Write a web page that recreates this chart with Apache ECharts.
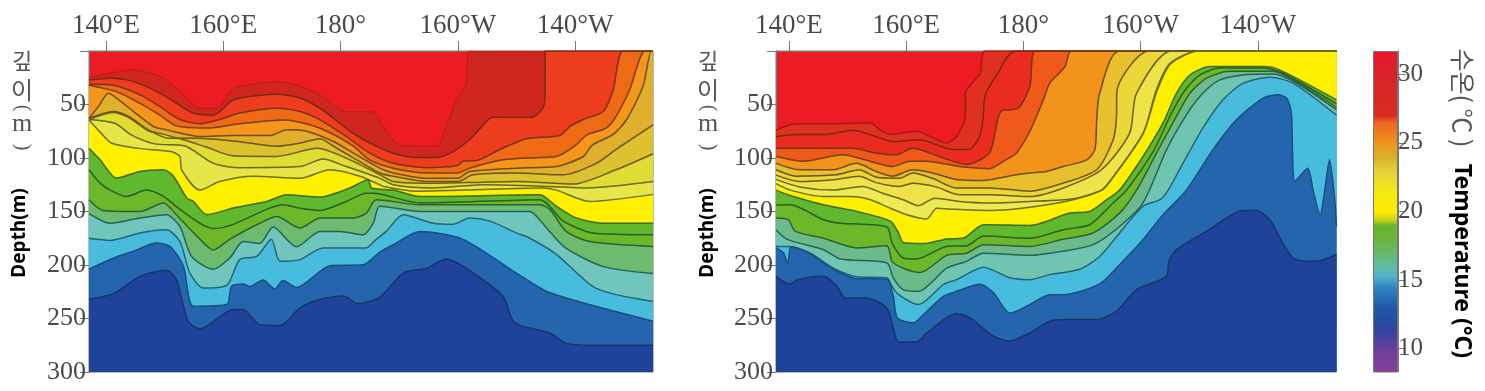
<!DOCTYPE html>
<html>
<head>
<meta charset="utf-8">
<title>Temperature sections</title>
<script src="https://cdn.jsdelivr.net/npm/echarts@6/dist/echarts.min.js"></script>
<style>
html,body{margin:0;padding:0;background:#fff}
#main{width:1485px;height:391px}
</style>
</head>
<body>
<div id="main"></div>
<script>
// longitude runs 140E -> 180 -> 140W as 140..220, every isotherm is [lon, depth]
var lonTicks = [140, 160, 180, 200, 220];
var lonLabels = ['140°E', '160°E', '180°', '160°W', '140°W'];
var depthLabels = [50, 100, 150, 200, 250, 300];
var tempTicks = [10, 15, 20, 25, 30];

// left section, warmest isotherm first
var left01 = [[137.1,24.6],[140.7,20.8],[144.7,17.7],[148.1,21.5],[150.3,27],[153.2,41],[156,53.5],[158.9,53.5],[161.7,35],[165.1,31],[169.1,28.6],[173.1,32.7],[176.5,41],[181,56.6],[185.6,57],[187.3,70.6],[190.1,88],[196.4,89],[198,70.6],[199.8,45.7],[201.5,30],[201.8,0],[233.3,0]];
var left02 = [[137.1,27],[140.7,25.5],[144.7,28.6],[148.1,36.4],[151.5,47],[154.9,58],[158.3,60],[161.7,45.7],[165.1,42],[169.1,40.4],[173.1,44],[176.5,53.5],[179.9,67.5],[181.6,75],[185,86],[189,95.5],[193,99.5],[196.4,99.5],[199.2,94],[202,83],[204.9,66],[206,62],[212.6,62],[214.5,53.5],[214.9,39.5],[214.9,0],[233.3,0]];
var left03 = [[137.1,31],[141.3,32],[145.8,41],[149.2,52],[152.6,64],[156,68],[159.4,64],[162.8,58],[169.1,53.5],[173.1,56.6],[176.5,64.4],[181,80],[185,95.5],[189,105],[194.7,109],[200,107],[200.9,103],[203.5,102],[207.2,92],[211.7,82],[217.4,79],[219.1,70.6],[221.4,64],[224.8,56.6],[226.5,36.4],[228.2,0],[233.3,0]];
var left04 = [[137.1,32],[141.8,38],[145.8,49],[149.2,60],[152,70],[157.2,72],[162.8,68],[170.2,64.4],[174.8,69],[178.8,78],[182.2,89],[185,102],[189,109.5],[194.7,114],[200,114],[202,109.5],[207.2,102],[211.7,100],[216.8,98.6],[220.2,87.7],[222,78.4],[225.3,72],[227,61],[229.3,36.4],[231.9,0],[233.3,0]];
var left05 = [[137.1,63],[138.7,52],[140.4,39.5],[141.8,44],[144.7,56.6],[148.1,70.6],[150.3,73.7],[156,80],[161.7,79],[168,79],[170.8,73.7],[174.2,75],[178.8,84.6],[182.2,95.5],[186.7,109.5],[189,114],[194.7,119],[200,119],[202,112.6],[210,109.5],[216.8,108],[221.4,98.6],[223,87.7],[226.5,78],[228.8,64],[231.6,33],[233,0],[233.3,0]];
var left06 = [[137.1,63],[141.2,56.6],[143.8,61],[147.2,73.7],[150.6,81.5],[155.7,81.5],[162.5,84.6],[169.1,89],[173.1,86],[176.5,82],[178.8,89],[186.7,114],[189,117],[194.7,122],[200,122],[202.6,115.7],[210,114],[218,115.7],[223.6,105],[227,92],[233.3,69]];
var left07 = [[137.1,64],[141.2,57.5],[143.8,62],[147.2,74.5],[149.2,77],[153.2,83],[157.2,90],[161.7,98],[169.1,98.6],[176,91],[181.6,101.7],[186.7,115.7],[189,122],[194.1,123.5],[201.5,122.9],[210,122],[219.7,124.4],[227,111],[233.3,96]];
var left08 = [[137.1,64],[141.5,67.5],[144.3,78.4],[148.3,86.8],[153.4,88.6],[158.3,105],[162.8,109],[173.1,108],[177,101],[181,108],[186.7,119],[189,125],[195.8,128],[204.3,125],[215.7,126.6],[222,128],[233.3,122]];
var left09 = [[137.1,64.4],[139.2,77],[140.9,86],[145.5,91],[151.1,94],[152.6,98.6],[152.9,111],[156,130],[159.4,122],[165.1,117],[173.1,119],[178.2,111],[183.3,117],[186.7,125],[187.3,126.6],[193,131],[201.5,130],[214.5,128],[216.8,130],[222.5,140.6],[233.3,134]];
var left10 = [[137.1,91],[139,101.7],[141.8,118.8],[145.8,112.6],[149.8,111],[151.5,117],[153.8,137.5],[154.9,140.6],[157.2,153],[161.7,146.8],[167.4,140.6],[170.8,134.4],[176.5,136.5],[181.6,128],[184.7,120.4],[185.3,128],[189,130],[193.5,136],[214,134.4],[216.8,145],[220.2,156],[224.8,161],[233.3,161]];
var left11 = [[137.1,111],[139,123.5],[140.7,130],[143.5,136],[146.9,130],[149.8,136],[152.6,148],[156,161],[158.3,166],[161.7,162],[167.4,148],[170.2,143.7],[173.1,147],[176.5,149],[181,140.6],[184.4,133],[185.6,133],[193.5,142],[214,139],[218,159],[223,170],[233.3,171.7]];
var left12 = [[137.1,139],[139.5,149],[145.8,150],[149.8,142],[152,153],[155.5,173],[158.3,186],[161.1,176],[166.2,161],[169.1,154.6],[173.1,165.5],[176.5,156],[182.2,156],[184.4,151.5],[186.1,139],[193.5,143.7],[214,143.7],[215.7,148],[218.5,168.6],[222.5,178],[233.3,182.6]];
var left13 = [[137.1,152],[140.7,161],[145.8,156],[150.3,153],[152.6,164],[154.6,192],[158.3,204],[161.1,193.5],[163.4,178],[166.2,180],[168.5,164.5],[172.5,183],[176.5,168.6],[179.9,168.6],[183.9,171.7],[185.6,160.8],[186.7,145],[193.5,150],[212.3,150],[214,158],[215.7,169],[218.5,184.5],[224.8,201.5],[233.3,208]];
var left14 = [[137.1,175],[140.7,177],[145.8,170],[150.3,167],[152.6,178],[154.3,207.5],[156.6,221.5],[160.6,219],[162.8,195],[165.7,192],[168.2,176],[169.7,196.6],[173.1,195],[177,184],[182.7,184],[184.4,184],[186.1,176],[187.8,168.6],[190.7,153],[195.8,161],[199.2,162],[202,156],[205.5,159],[210,170],[212.3,175],[216.8,190],[223,220],[227,227.7],[233.3,234]];
var left15 = [[137.1,204],[141.3,193.5],[144.7,187],[148.6,179.5],[150.9,182.6],[153.2,201],[154.9,238.6],[160.6,237],[161.4,220],[163.4,217.7],[164.5,220],[166.8,214],[168.8,222.4],[170.2,214.6],[172.5,221],[178.2,200.6],[183.9,199.7],[186.7,188],[189,181],[193.5,168.6],[200.9,176],[210,207.5],[215.7,226],[233.3,252.5]];
var left16 = [[137.1,231.7],[141.3,226.7],[145.8,210.6],[150.3,205],[152,213.7],[154,252.6],[156,259.7],[161.7,241.7],[163.4,241.7],[166.2,255.7],[169.7,256.6],[173.1,240],[176.5,232.3],[180.5,229],[183,236],[186.7,230],[190.7,207.5],[194.7,203],[198,194.4],[200.9,201],[207.7,229],[209.7,254],[215.7,263.5],[218.5,273],[222.5,275],[233.3,275]];

// right section
var right01 = [[137.8,74],[140.2,69],[142.5,68],[147,68],[153.9,67],[155.6,74],[157.3,78],[161.8,75],[164.1,80],[166.9,86],[168.6,80],[170.1,61],[170.1,39.5],[172.6,21],[173.5,0],[233.4,0]];
var right02 = [[137.8,80],[141.2,78],[146.4,78],[150.9,74],[154.9,80],[157.7,84.6],[162.3,83],[168,92],[170.8,92],[172.5,80],[173.1,64],[173.5,41],[175.5,22],[178.6,0],[233.4,0]];
var right03 = [[137.8,91],[142.4,91],[150.9,91],[154.9,95.5],[158.3,97],[161.1,91],[166.3,100],[170.2,106],[174.2,95.5],[175.6,64],[176.3,55.7],[179.1,53.5],[181.1,33],[182,0],[233.4,0]];
var right04 = [[137.8,98.6],[142.4,103],[149.2,97],[153.8,103],[157.7,108],[160.6,103],[163.4,103],[169.1,108],[174.2,110],[177,101.7],[178.8,95.5],[181.1,75],[183.4,45.7],[184.5,30],[187.1,14.6],[188.2,0],[233.4,0]];
var right05 = [[137.8,105],[141.8,111],[147.5,111],[151.5,105],[154.9,112.6],[157.7,117],[161.1,111],[164.5,114],[168.5,120],[173.1,121],[178.8,115.7],[181.1,114],[183.9,112.6],[186.8,108],[190.8,101.7],[192.2,92],[192.5,64],[193,39.5],[196.4,0],[233.4,0]];
var right06 = [[137.8,111],[141.2,117],[148,115.7],[152,111],[154.9,118],[158.9,119],[161.1,114],[164.5,119],[168.5,128],[173.1,128],[174.2,128],[181.1,131],[186.8,123.5],[192.5,111],[195.3,83],[195.9,58],[195.9,39.5],[201.5,0],[233.4,0]];
var right07 = [[137.8,116],[141.8,122],[148,120],[152,117],[154.9,123],[158.9,126.6],[161.1,123.5],[165.1,127],[169.1,134.4],[174.2,134.4],[181.1,136],[186.8,128],[193.3,111],[198.1,77],[199.3,39.5],[205.3,0],[233.4,0]];
var right08 = [[137.8,120],[141.8,127],[147.5,130],[152.6,126.6],[156,133],[159.5,139],[162.1,144.6],[164.9,137.5],[169.1,140.6],[174.2,142],[181.1,140.6],[188.5,138],[193.3,130],[194.7,122],[200.4,77],[202.7,36],[205,11.5],[209.8,0],[233.4,0]];
var right09 = [[137.8,124],[140.2,130],[145.9,136],[150.5,136],[153.9,139],[157.3,147],[160.1,153],[163.5,157],[165.2,147],[168.6,148],[174.3,149],[181.1,146],[188.5,139],[193.3,130.3],[194.7,122.5],[200.4,77.5],[202.8,37],[205.1,12],[209.9,0],[233.4,0]];
var right10 = [[137.8,130],[140.2,135],[145.9,143.7],[151.6,150],[157.3,159],[158.7,170],[159.5,179],[163,180],[166.9,175.8],[169.8,174.8],[173.2,162.4],[181.1,163],[187.9,151.5],[191.3,150],[194.2,139],[196.4,130],[200.4,98.6],[203.8,67.5],[206.1,39.5],[208.4,22.4],[211.8,14.6],[220.9,14.6],[223.7,17.7],[233.4,45.7]];
var right11 = [[137.8,144],[140.2,143.7],[145.9,157.7],[148.8,161],[156.7,164.5],[157.6,179.5],[159.5,193.5],[161.8,194.4],[166.9,182.6],[170.3,182],[173.2,173],[181.1,175],[186.8,167],[191.3,162.4],[195.3,142],[197.6,130],[202.3,92.4],[205,61],[207.2,39.5],[210.1,22.4],[213.5,16],[220.9,16],[224.3,20.8],[233.4,49.5]];
var right12 = [[137.8,156],[139.9,157.7],[141.1,168.6],[145.9,175],[151.6,184],[156.7,182],[157.6,196.6],[159.5,203],[162.4,207],[166.9,191],[170.3,189],[173.2,181],[181.1,182.6],[186.8,176],[191.9,170],[196.4,151.5],[199.3,130],[202.7,95.5],[206.1,61],[208.4,39.5],[211.2,25.5],[215.2,19],[222.6,19],[226,27],[233.4,52.6]];
var right13 = [[137.8,167],[139.7,176],[145.9,185.7],[148.8,194.4],[156.7,198],[157.8,212],[159.5,223],[162.1,224.6],[166.9,203],[170.3,196.6],[173.2,189],[181.1,191],[186.8,187],[191.9,181],[196.4,164],[200.4,142],[204.4,92.4],[207.8,59.7],[210.6,39.5],[213.5,27],[217.5,22.4],[222.6,21.5],[226.6,30],[233.4,55]];
var right14 = [[137.8,182.6],[140.2,182.6],[143.6,188.8],[147.6,203],[151.6,211],[156.7,212],[157.6,220],[158.7,227.7],[162.1,237],[166.4,218],[168.6,213.7],[173.2,202],[177.7,212],[181.1,213.7],[184.5,209],[189.6,204],[193,192],[196.4,170],[200.4,145],[203.3,139],[204.7,130],[207.2,105],[210.6,72],[214,45.7],[217.5,30],[222,24.6],[226,30],[233.4,60]];
var right15 = [[137.8,184],[139.1,188.8],[139.8,198.8],[140.4,183],[143.6,189.4],[147.6,204],[151.6,212.8],[156.7,213],[157.8,229],[158.5,249.5],[161.3,254],[163,246],[166.4,229],[168.6,224.6],[172.6,218],[174.9,226],[177.7,245],[181.1,237],[184.5,227.7],[186.8,227.7],[193,217.7],[196.4,199.7],[199.9,179.5],[203.8,153],[207.8,130],[212.3,92.4],[216.3,64.4],[220.9,44],[223.4,41],[224.9,44],[225.7,58],[226.3,122],[228.5,109.5],[229.4,130],[230.6,153],[231.4,130],[232.2,101.7],[233.1,139],[233.4,164]];
var right16 = [[137.8,210.6],[140.2,218],[141.4,213.7],[145.9,210.6],[148.2,220],[149.6,230.8],[153.3,230.8],[156.7,240],[157.6,254],[158.7,272],[161.8,272],[163.5,263.5],[168.6,245.4],[170.9,249.5],[174.9,266.6],[177.7,271],[181.1,263.5],[184.5,252.6],[186.8,251],[192.5,251],[195.9,243],[199.3,223],[204.4,210.6],[204.8,196.6],[206.1,185.7],[211.2,168.6],[217.5,149],[219.7,149],[222,157.7],[226,193.5],[230,196.6],[233.4,190]];

var leftLines = [left01,left02,left03,left04,left05,left06,left07,left08,left09,left10,left11,left12,left13,left14,left15,left16];
var rightLines = [right01,right02,right03,right04,right05,right06,right07,right08,right09,right10,right11,right12,right13,right14,right15,right16];

// colour of the band under each isotherm, top band is the grid background
var topBand = '#ed1c24';
var leftBands = ['#cf261f','#ee3d1e','#ee6a14','#f5961b','#e0b02c','#dcc22e','#dfdc34','#e6e648','#fff000','#5fb82e','#6cb82a','#6dbb6f','#70c5bc','#48bcdc','#2565ae','#1f429b'];
var rightBands = ['#e0301f','#ea2b20','#ef5a1a','#f4931b','#e8c02e','#ebd838','#eee44a','#eeea55','#fff000','#5fb82e','#6cb82a','#6dbb8a','#70c5b0','#48bcdc','#2565ae','#1f429b'];
var lineColors = ['#a01c18','#7a2a14','#7a3214','#7a3c14','#6e4c18','#6e5218','#6e5a18','#6e6418','#6e6e18','#3f6a1c','#2a5e24','#2a6232','#26625a','#266478','#184f80','#163866'];

// colour bar stops
var barTemps = [8.3,10,11.5,13,14.5,15.3,16,17,18,19,19.4,20,21.5,23,24,25,26.5,27,30,31.7];
var barColors = ['#8a3d9a','#6a3f9c','#2c45a0','#2057a8','#2e86c4','#52b5c8','#5dbda0','#68b96d','#6cb43a','#6cb42b','#c8d21b','#ffeb00','#f3e914','#e6cf3a','#d9ae2b','#f0941c','#ee6420','#d92c20','#d8232a','#e8142d'];
var barMin = 8.3, barMax = 31.7;

var labelFont = 'Liberation Serif';
var labelColor = '#4a4a4a';
var axisColor = '#777';

function lonAxis(gridIndex, min, max) {
  return {
    type: 'value', gridIndex: gridIndex, position: 'top', min: min, max: max,
    axisLine: {show: true, onZero: false, lineStyle: {color: axisColor}},
    axisTick: {show: true, length: 10, inside: false, customValues: lonTicks, lineStyle: {color: axisColor}},
    axisLabel: {
      show: true, margin: 12, fontFamily: labelFont, fontSize: 27, color: labelColor,
      customValues: lonTicks,
      formatter: function (v) { return lonLabels[lonTicks.indexOf(v)]; }
    },
    splitLine: {show: false}
  };
}

function depthAxis(gridIndex) {
  return {
    type: 'value', gridIndex: gridIndex, inverse: true, min: 0, max: 300, interval: 50,
    axisLine: {show: true, onZero: false, lineStyle: {color: axisColor}},
    axisTick: {show: true, length: 9, lineStyle: {color: axisColor}},
    axisLabel: {
      margin: 3, fontFamily: labelFont, fontSize: 26, color: labelColor,
      formatter: function (v) { return depthLabels.indexOf(v) >= 0 ? String(v) : ''; }
    },
    splitLine: {show: false}
  };
}

function sectionSeries(lines, bands, index, firstWidth) {
  return lines.map(function (line, i) {
    return {
      type: 'line', xAxisIndex: index, yAxisIndex: index, data: line,
      smooth: 0.25, symbol: 'none', silent: true,
      lineStyle: {color: lineColors[i], width: i === 0 ? firstWidth : 1.5},
      areaStyle: {color: bands[i], opacity: 1, origin: 'end'}
    };
  });
}

var barStops = barTemps.map(function (t, i) {
  return {offset: (t - barMin) / (barMax - barMin), color: barColors[i]};
});

function sideText(text, x, y, rotation, font, color) {
  return {type: 'text', x: x, y: y, rotation: rotation,
    style: {text: text, font: font, fill: color, align: 'center', verticalAlign: 'middle'}};
}

// the korean axis title is written vertically: upright glyphs, turned brackets
function koreanTitle(x) {
  var grey = '#555';
  return [
    sideText('깊', x, 61, 0, '22px "Noto Sans CJK KR"', grey),
    sideText('이', x, 90, 0, '24px "Noto Sans CJK KR"', grey),
    sideText('(', x, 108, -Math.PI / 2, '20px "Liberation Serif"', grey),
    sideText('m', x, 124, 0, '26px "Liberation Serif"', grey),
    sideText(')', x, 147, -Math.PI / 2, '20px "Liberation Serif"', grey)
  ];
}

var option = {
  animation: false,
  backgroundColor: '#fff',
  grid: [
    {left: 89, top: 51, width: 564, height: 321, show: true, backgroundColor: topBand, borderColor: axisColor, borderWidth: 1},
    {left: 776, top: 51, width: 560.5, height: 321, show: true, backgroundColor: topBand, borderColor: axisColor, borderWidth: 1},
    {left: 1373, top: 51, width: 25, height: 321}
  ],
  xAxis: [
    lonAxis(0, 137.1, 233.3),
    lonAxis(1, 137.8, 233.4),
    {type: 'category', gridIndex: 2, data: ['t'], show: false}
  ],
  yAxis: [
    depthAxis(0),
    depthAxis(1),
    {
      type: 'value', gridIndex: 2, position: 'right', min: barMin, max: barMax,
      axisLine: {show: true, onZero: false, lineStyle: {color: axisColor}},
      axisTick: {show: true, length: 8, customValues: tempTicks, lineStyle: {color: axisColor}},
      axisLabel: {margin: 0, fontFamily: labelFont, fontSize: 25, color: labelColor, customValues: tempTicks},
      splitLine: {show: false}
    }
  ],
  series: sectionSeries(leftLines, leftBands, 0, 0.6).concat(sectionSeries(rightLines, rightBands, 1, 1.5)).concat([{
    type: 'bar', xAxisIndex: 2, yAxisIndex: 2, data: [barMax], barWidth: '100%', silent: true,
    itemStyle: {
      color: {type: 'linear', x: 0, y: 1, x2: 0, y2: 0, colorStops: barStops},
      borderColor: axisColor, borderWidth: 1
    }
  }]),
  graphic: [
    sideText('Depth(m)', 20, 233, Math.PI / 2, 'bold 19px "Noto Sans"', '#000'),
    sideText('Depth(m)', 708, 233, Math.PI / 2, 'bold 19px "Noto Sans"', '#000'),
    sideText('수온( ℃ )', 1462, 98, -Math.PI / 2, '25px "Noto Sans CJK KR"', '#555'),
    sideText('Temperature (°C)', 1462, 261, -Math.PI / 2, 'bold 23px "Noto Sans"', '#000')
  ].concat(koreanTitle(22)).concat(koreanTitle(708))
};

var chart = echarts.init(document.getElementById('main'), null, {renderer: 'canvas'});
chart.setOption(option);
</script>
</body>
</html>
